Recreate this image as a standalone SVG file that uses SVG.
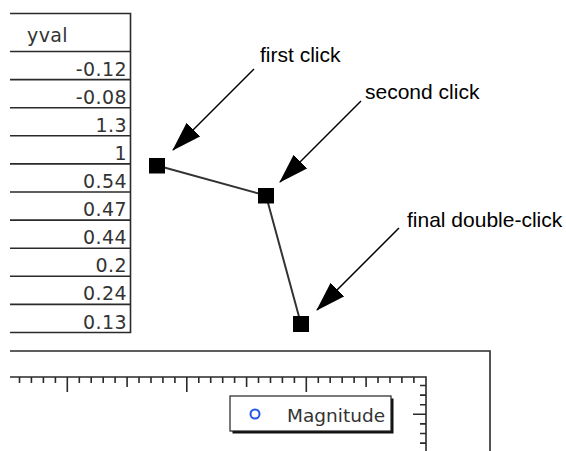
<svg xmlns="http://www.w3.org/2000/svg" width="566" height="451" viewBox="0 0 566 451">
<style>
.grid{stroke:#2a2a2a;stroke-width:1.6;fill:none}
.cell{font-family:"DejaVu Sans",Verdana,sans-serif;font-size:19px;fill:#333;letter-spacing:0.4px}
.num{text-anchor:end}
.note{font-family:"Liberation Sans",Arial,Helvetica,sans-serif;font-size:21px;fill:#000}
.arrow{stroke:#000;stroke-width:1.5;fill:none;marker-end:url(#head)}
.pt{fill:#000}
.path{stroke:#333;stroke-width:2;fill:none}
</style>
<defs>
<marker id="head" markerUnits="userSpaceOnUse" markerWidth="30" markerHeight="20" viewBox="0 0 28 18" refX="27" refY="9" orient="auto">
<path d="M0,0 L28,9 L0,18 Z" fill="#000"/>
</marker>
</defs>
<rect width="566" height="451" fill="#fff"/>
<g id="table">
<path class="grid" d="M10,13.5 H130.5 V332.5 H10 M10,51.5 H130 M10,79.6 H130 M10,107.7 H130 M10,135.8 H130 M10,163.9 H130 M10,192 H130 M10,220.1 H130 M10,248.2 H130 M10,276.3 H130 M10,304.4 H130"/>
<text class="cell" x="27" y="42">yval</text>
<text class="cell num" x="127" y="75.6">-0.12</text>
<text class="cell num" x="127" y="103.7">-0.08</text>
<text class="cell num" x="127" y="131.8">1.3</text>
<text class="cell num" x="127" y="159.9">1</text>
<text class="cell num" x="127" y="188">0.54</text>
<text class="cell num" x="127" y="216.1">0.47</text>
<text class="cell num" x="127" y="244.2">0.44</text>
<text class="cell num" x="127" y="272.3">0.2</text>
<text class="cell num" x="127" y="300.4">0.24</text>
<text class="cell num" x="127" y="328.5">0.13</text>
</g>
<g id="graph">
<path class="grid" d="M10,351 H490 V451"/>
<path class="grid" d="M10,377 H426 V451"/>
<path class="grid" stroke-width="1.4" d="M19.5,377v6 M31.4,377v6 M43.4,377v6 M55.4,377v6 M67.3,377v15 M79.3,377v6 M91.2,377v6 M103.2,377v6 M115.1,377v6 M127.1,377v10 M139,377v6 M151,377v6 M162.9,377v6 M174.9,377v6 M186.8,377v15 M198.8,377v6 M210.7,377v6 M222.7,377v6 M234.6,377v6 M246.6,377v10 M258.5,377v6 M270.5,377v6 M282.4,377v6 M294.4,377v6 M306.3,377v15 M318.3,377v6 M330.2,377v6 M342.2,377v6 M354.1,377v6 M366.1,377v10 M378,377v6 M390,377v6 M401.9,377v6 M413.9,377v6 M426,385.5h-6 M426,395.1h-6 M426,404.7h-6 M426,414.3h-13 M426,423.9h-6 M426,433.5h-6 M426,443.1h-6"/>
<g id="legend">
<rect x="232.5" y="398.5" width="161" height="35" fill="#111"/>
<rect x="230" y="396" width="161" height="35" fill="#fff" stroke="#222" stroke-width="1.2"/>
<circle cx="255" cy="414" r="4.5" fill="none" stroke="#2255ee" stroke-width="2"/>
<text class="cell" x="287" y="422" style="font-size:18.5px;letter-spacing:0">Magnitude</text>
</g>
</g>
<g id="connectors">
<polyline class="path" points="157,165.5 266,195.5 301,324"/>
<line class="arrow" x1="254" y1="69" x2="173" y2="150"/>
<line class="arrow" x1="361" y1="101" x2="280" y2="182"/>
<line class="arrow" x1="399" y1="228" x2="317" y2="310"/>
</g>
<g id="points">
<rect id="p1" class="pt" x="149" y="158" width="16" height="15.5"/>
<rect id="p2" class="pt" x="258" y="188" width="16" height="15.5"/>
<rect id="p3" class="pt" x="293" y="316" width="16" height="16"/>
</g>
<g id="labels">
<text class="note" x="260" y="62">first click</text>
<text class="note" x="365" y="99">second click</text>
<text class="note" x="407" y="227">final double-click</text>
</g>
</svg>
